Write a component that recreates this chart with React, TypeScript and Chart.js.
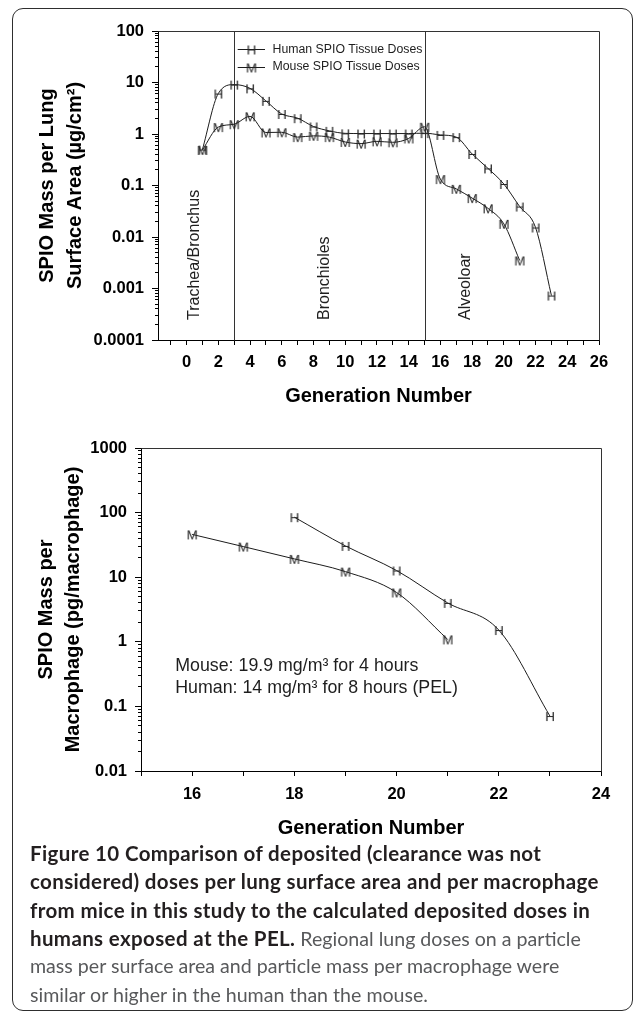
import React, { useEffect, useRef } from 'react';
import { Chart, registerables } from 'chart.js';

Chart.register(...registerables);

const AXIS_FONT = '"Liberation Sans", Arial, Helvetica, sans-serif';
const LINE_COLOR = '#1c1c1c';
const MARKER_COLOR = '#262626';
const FRAME_COLOR = '#333333';

// ---------- Top chart: SPIO mass per lung surface area ----------
const topHumanGeneration = [1, 2, 3, 4, 5, 6, 7, 8, 9, 10, 11, 12, 13, 14, 15, 16, 17, 18, 19, 20, 21, 22, 23];
const topHumanDose = [0.5, 6.1, 9.1, 7.7, 4.4, 2.45, 2.03, 1.4, 1.15, 1.03, 1.02, 1.02, 1.02, 1.02, 1.04, 0.96, 0.87, 0.41, 0.215, 0.107, 0.039, 0.0153, 0.00073];
const topMouseGeneration = [1, 2, 3, 4, 5, 6, 7, 8, 9, 10, 11, 12, 13, 14, 15, 16, 17, 18, 19, 20, 21];
const topMouseDose = [0.49, 1.36, 1.55, 2.2, 1.07, 1.08, 0.87, 0.92, 0.87, 0.7, 0.65, 0.72, 0.69, 0.82, 1.38, 0.133, 0.086, 0.057, 0.036, 0.018, 0.0035];
const topRegionBoundaries = [3, 15];
const topRegionNames = ['Trachea/Bronchus', 'Bronchioles', 'Alveoloar'];
const topRegionNameAt = [0.5, 8.7, 17.6];
const topYTickValues = [0.0001, 0.001, 0.01, 0.1, 1, 10, 100];
const topYTickLabels = ['0.0001', '0.001', '0.01', '0.1', '1', '10', '100'];
const topXTickValues = [-1, 0, 1, 2, 3, 4, 5, 6, 7, 8, 9, 10, 11, 12, 13, 14, 15, 16, 17, 18, 19, 20, 21, 22, 23, 24, 25, 26];
const topXLabelValues = [0, 2, 4, 6, 8, 10, 12, 14, 16, 18, 20, 22, 24, 26];
const topXTickLabels = ['0', '2', '4', '6', '8', '10', '12', '14', '16', '18', '20', '22', '24', '26'];
const topYTitle = ['SPIO Mass per Lung', 'Surface Area (\u00b5g/cm\u00b2)'];
const legendLabels = ['Human SPIO Tissue Doses', 'Mouse SPIO Tissue Doses'];

// ---------- Bottom chart: SPIO mass per macrophage ----------
const bottomMouseGeneration = [16, 17, 18, 19, 20, 21];
const bottomMouseDose = [46, 29.8, 19.2, 12.2, 5.8, 1.09];
const bottomHumanGeneration = [18, 19, 20, 21, 22, 23];
const bottomHumanDose = [85, 30.5, 12.7, 4.0, 1.52, 0.071];
const bottomYTickValues = [0.01, 0.1, 1, 10, 100, 1000];
const bottomYTickLabels = ['0.01', '0.1', '1', '10', '100', '1000'];
const bottomXTickValues = [15, 16, 17, 18, 19, 20, 21, 22, 23, 24];
const bottomXLabelValues = [16, 18, 20, 22, 24];
const bottomXTickLabels = ['16', '18', '20', '22', '24'];
const bottomYTitle = ['SPIO Mass per', 'Macrophage (pg/macrophage)'];
const annotationLines = ['Mouse: 19.9 mg/m\u00b3 for 4 hours', 'Human: 14 mg/m\u00b3 for 8 hours (PEL)'];
const annotationAt = { x: 15.67, y: 0.42 };

const xTitle = 'Generation Number';

// ---------- Caption ----------
const captionBold = [
  'Figure 10 Comparison of deposited (clearance was not',
  'considered) doses per lung surface area and per macrophage',
  'from mice in this study to the calculated deposited doses in',
  'humans exposed at the PEL.',
];
const captionRegular = [
  ' Regional lung doses on a particle',
  'mass per surface area and particle mass per macrophage were',
  'similar or higher in the human than the mouse.',
];

function minorTicks(values: number[]): number[] {
  const out: number[] = [];
  for (let i = 0; i < values.length - 1; i++) {
    for (let k = 2; k <= 9; k++) out.push(values[i] * k);
  }
  return out;
}

function makeMarker(letter: string): HTMLCanvasElement {
  const size = 13.5;
  const c = document.createElement('canvas');
  c.width = 18;
  c.height = 18;
  const ctx = c.getContext('2d');
  if (ctx) {
    ctx.font = `${size}px ${AXIS_FONT}`;
    ctx.fillStyle = MARKER_COLOR;
    ctx.textAlign = 'center';
    ctx.textBaseline = 'alphabetic';
    ctx.fillText(letter, 9, 9 + (size * 0.716) / 2);
  }
  return c;
}

function labelFor(values: number[], labels: string[], v: number, log: boolean): string {
  const i = values.findIndex((t) =>
    log ? Math.abs(Math.log10(t) - Math.log10(v)) < 1e-6 : Math.abs(t - v) < 1e-6
  );
  return i >= 0 ? labels[i] : '';
}

const tickFont = { family: AXIS_FONT, size: 16.5, weight: 'bold' as const };
const titleFont = { family: AXIS_FONT, size: 20, weight: 'bold' as const };

const framePlugin = {
  id: 'frame',
  beforeDatasetsDraw(chart: any) {
    const { ctx, chartArea } = chart;
    ctx.save();
    ctx.strokeStyle = FRAME_COLOR;
    ctx.lineWidth = 1;
    const l = Math.round(chartArea.left) + 0.5;
    const t = Math.round(chartArea.top) + 0.5;
    const r = Math.round(chartArea.right) + 0.5;
    const b = Math.round(chartArea.bottom) + 0.5;
    ctx.beginPath();
    ctx.moveTo(l, t);
    ctx.lineTo(r, t);
    ctx.lineTo(r, b);
    ctx.stroke();
    const lines: number[] = chart.options.plugins.frame?.verticals || [];
    lines.forEach((v) => {
      const x = Math.round(chart.scales.x.getPixelForValue(v)) + 0.5;
      ctx.beginPath();
      ctx.moveTo(x, t);
      ctx.lineTo(x, b);
      ctx.stroke();
    });
    ctx.restore();
  },
};

const regionPlugin = {
  id: 'regionLabels',
  afterDatasetsDraw(chart: any) {
    const { ctx, chartArea } = chart;
    ctx.save();
    ctx.fillStyle = '#1e1e1e';
    ctx.font = `16px ${AXIS_FONT}`;
    ctx.textAlign = 'left';
    ctx.textBaseline = 'middle';
    topRegionNames.forEach((name, i) => {
      const x = chart.scales.x.getPixelForValue(topRegionNameAt[i]);
      const y = chartArea.bottom - 20;
      ctx.save();
      ctx.translate(x, y);
      ctx.rotate(-Math.PI / 2);
      ctx.fillText(name, 0, 0);
      ctx.restore();
    });
    ctx.restore();
  },
};

function legendPlugin(markers: HTMLCanvasElement[]) {
  return {
    id: 'customLegend',
    afterDatasetsDraw(chart: any) {
      const { ctx, chartArea } = chart;
      ctx.save();
      ctx.font = `12.3px ${AXIS_FONT}`;
      ctx.fillStyle = '#1e1e1e';
      ctx.textAlign = 'left';
      ctx.textBaseline = 'middle';
      legendLabels.forEach((label, i) => {
        const y = chartArea.top + 18.3 + i * 17.4;
        const x0 = chartArea.left + 79.7;
        const x1 = chartArea.left + 107;
        ctx.strokeStyle = LINE_COLOR;
        ctx.lineWidth = 1;
        ctx.beginPath();
        ctx.moveTo(x0, Math.round(y) + 0.5);
        ctx.lineTo(x1, Math.round(y) + 0.5);
        ctx.stroke();
        const m = markers[i];
        ctx.drawImage(m, (x0 + x1) / 2 - m.width / 2, Math.round(y) + 0.5 - m.height / 2);
        ctx.fillText(label, chartArea.left + 114.5, y);
      });
      ctx.restore();
    },
  };
}

const annotationPlugin = {
  id: 'annotationText',
  afterDatasetsDraw(chart: any) {
    const { ctx } = chart;
    ctx.save();
    ctx.font = `17.8px ${AXIS_FONT}`;
    ctx.fillStyle = '#1e1e1e';
    ctx.textAlign = 'left';
    ctx.textBaseline = 'middle';
    const x = chart.scales.x.getPixelForValue(annotationAt.x);
    const y = chart.scales.y.getPixelForValue(annotationAt.y);
    annotationLines.forEach((line, i) => ctx.fillText(line, x, y + i * 21.5));
    ctx.restore();
  },
};

function axisCommon(tickLength: number) {
  return {
    grid: { drawOnChartArea: false, drawTicks: true, tickLength, color: '#000', tickColor: '#000' },
    border: { display: true, color: '#000', width: 1 },
  };
}

function buildTop(canvas: HTMLCanvasElement) {
  const mH = makeMarker('H');
  const mM = makeMarker('M');
  return new Chart(canvas, {
    type: 'line',
    data: {
      datasets: [
        {
          label: legendLabels[0],
          data: topHumanGeneration.map((g, i) => ({ x: g, y: topHumanDose[i] })),
          borderColor: LINE_COLOR,
          borderWidth: 1,
          pointStyle: mH,
          pointRadius: 5,
          cubicInterpolationMode: 'monotone',
          fill: false,
        },
        {
          label: legendLabels[1],
          data: topMouseGeneration.map((g, i) => ({ x: g, y: topMouseDose[i] })),
          borderColor: LINE_COLOR,
          borderWidth: 1,
          pointStyle: mM,
          pointRadius: 5,
          cubicInterpolationMode: 'monotone',
          fill: false,
        },
      ],
    },
    options: {
      responsive: false,
      animation: false,
      devicePixelRatio: 1,
      events: [],
      layout: { padding: { top: 31, right: 35, left: 0, bottom: 0 } },
      plugins: {
        legend: { display: false },
        tooltip: { enabled: false },
        frame: { verticals: topRegionBoundaries },
      } as any,
      scales: {
        x: {
          type: 'linear',
          min: -1.8,
          max: 26,
          ...axisCommon(5),
          afterBuildTicks: (s: any) => {
            s.ticks = topXTickValues.map((v) => ({ value: v }));
          },
          afterFit: (s: any) => {
            s.height = 80;
            s.paddingLeft = 0;
            s.paddingRight = 0;
          },
          ticks: {
            autoSkip: false,
            maxRotation: 0,
            padding: 8,
            color: '#000',
            font: tickFont,
            callback: (v: any) => labelFor(topXLabelValues, topXTickLabels, Number(v), false),
          },
          title: { display: true, text: xTitle, color: '#000', font: titleFont, padding: { top: 0, bottom: 12 } },
        },
        y: {
          type: 'logarithmic',
          min: 0.0001,
          max: 100,
          weight: 1,
          ...axisCommon(6),
          afterBuildTicks: (s: any) => {
            s.ticks = topYTickValues.map((v) => ({ value: v, major: true }));
          },
          afterFit: (s: any) => {
            s.width = 158;
            s.paddingTop = 0;
            s.paddingBottom = 0;
          },
          ticks: {
            autoSkip: false,
            padding: 8,
            color: '#000',
            font: tickFont,
            callback: (v: any) => labelFor(topYTickValues, topYTickLabels, Number(v), true),
          },
          title: {
            display: true,
            text: topYTitle,
            color: '#000',
            font: { ...titleFont, lineHeight: 1.415 },
            padding: { top: 33.5, bottom: 0 },
          },
        },
        yMinor: {
          type: 'logarithmic',
          position: 'left',
          min: 0.0001,
          max: 100,
          weight: 0,
          grid: { drawOnChartArea: false, drawTicks: true, tickLength: 3, color: '#000', tickColor: '#000' },
          border: { display: false },
          afterBuildTicks: (s: any) => {
            s.ticks = minorTicks(topYTickValues).map((v) => ({ value: v }));
          },
          afterFit: (s: any) => {
            s.width = 0;
            s.paddingTop = 0;
            s.paddingBottom = 0;
          },
          ticks: { display: false, autoSkip: false },
        },
      } as any,
    },
    plugins: [framePlugin, regionPlugin, legendPlugin([mH, mM])],
  } as any);
}

function buildBottom(canvas: HTMLCanvasElement) {
  const mH = makeMarker('H');
  const mM = makeMarker('M');
  return new Chart(canvas, {
    type: 'line',
    data: {
      datasets: [
        {
          label: 'Mouse',
          data: bottomMouseGeneration.map((g, i) => ({ x: g, y: bottomMouseDose[i] })),
          borderColor: LINE_COLOR,
          borderWidth: 1,
          pointStyle: mM,
          pointRadius: 5,
          cubicInterpolationMode: 'monotone',
          fill: false,
        },
        {
          label: 'Human',
          data: bottomHumanGeneration.map((g, i) => ({ x: g, y: bottomHumanDose[i] })),
          borderColor: LINE_COLOR,
          borderWidth: 1,
          pointStyle: mH,
          pointRadius: 5,
          cubicInterpolationMode: 'monotone',
          fill: false,
        },
      ],
    },
    options: {
      responsive: false,
      animation: false,
      devicePixelRatio: 1,
      events: [],
      layout: { padding: { top: 18, right: 33, left: 0, bottom: 0 } },
      plugins: {
        legend: { display: false },
        tooltip: { enabled: false },
        frame: { verticals: [] },
      } as any,
      scales: {
        x: {
          type: 'linear',
          min: 15,
          max: 24,
          ...axisCommon(5),
          afterBuildTicks: (s: any) => {
            s.ticks = bottomXTickValues.map((v) => ({ value: v }));
          },
          afterFit: (s: any) => {
            s.height = 79;
            s.paddingLeft = 0;
            s.paddingRight = 0;
          },
          ticks: {
            autoSkip: false,
            maxRotation: 0,
            padding: 9,
            color: '#000',
            font: tickFont,
            callback: (v: any) => labelFor(bottomXLabelValues, bottomXTickLabels, Number(v), false),
          },
          title: { display: true, text: xTitle, color: '#000', font: titleFont, padding: { top: 0, bottom: 10 } },
        },
        y: {
          type: 'logarithmic',
          min: 0.01,
          max: 1000,
          weight: 1,
          ...axisCommon(6),
          afterBuildTicks: (s: any) => {
            s.ticks = bottomYTickValues.map((v) => ({ value: v, major: true }));
          },
          afterFit: (s: any) => {
            s.width = 141;
            s.paddingTop = 0;
            s.paddingBottom = 0;
          },
          ticks: {
            autoSkip: false,
            padding: 8,
            color: '#000',
            font: tickFont,
            callback: (v: any) => labelFor(bottomYTickValues, bottomYTickLabels, Number(v), true),
          },
          title: {
            display: true,
            text: bottomYTitle,
            color: '#000',
            font: { ...titleFont, lineHeight: 1.38 },
            padding: { top: 32.5, bottom: 0 },
          },
        },
        yMinor: {
          type: 'logarithmic',
          position: 'left',
          min: 0.01,
          max: 1000,
          weight: 0,
          grid: { drawOnChartArea: false, drawTicks: true, tickLength: 3, color: '#000', tickColor: '#000' },
          border: { display: false },
          afterBuildTicks: (s: any) => {
            s.ticks = minorTicks(bottomYTickValues).map((v) => ({ value: v }));
          },
          afterFit: (s: any) => {
            s.width = 0;
            s.paddingTop = 0;
            s.paddingBottom = 0;
          },
          ticks: { display: false, autoSkip: false },
        },
      } as any,
    },
    plugins: [framePlugin, annotationPlugin],
  } as any);
}

export default function App() {
  const topRef = useRef<HTMLCanvasElement>(null);
  const bottomRef = useRef<HTMLCanvasElement>(null);

  useEffect(() => {
    const charts: Chart[] = [];
    if (topRef.current) charts.push(buildTop(topRef.current));
    if (bottomRef.current) charts.push(buildBottom(bottomRef.current));
    return () => charts.forEach((c) => c.destroy());
  }, []);

  const boldStyle: React.CSSProperties = { fontWeight: 700, color: '#231f20', fontSize: 20.5, letterSpacing: '0.37px' };
  const regStyle: React.CSSProperties = { fontWeight: 400, color: '#58595b', fontSize: 19.6 };
  const lineStyle: React.CSSProperties = { height: 28.33, lineHeight: '28.33px', whiteSpace: 'nowrap' };

  return (
    <div>
      <div
        style={{
          position: 'absolute',
          left: 12,
          top: 8,
          width: 621,
          height: 1003,
          boxSizing: 'border-box',
          border: '1.5px solid #2e2e2e',
          borderRadius: 11,
        }}
      />
      <canvas
        ref={topRef}
        width={634}
        height={420}
        style={{ position: 'absolute', left: 0, top: 0, width: 634, height: 420 }}
      />
      <canvas
        ref={bottomRef}
        width={634}
        height={420}
        style={{ position: 'absolute', left: 0, top: 430, width: 634, height: 420 }}
      />
      <div
        style={{
          position: 'absolute',
          left: 30,
          top: 839,
          fontFamily: 'Lato, "Open Sans", sans-serif',
          fontSize: 19.6,
        }}
      >
        <div style={{ ...lineStyle, ...boldStyle }}>{captionBold[0]}</div>
        <div style={{ ...lineStyle, ...boldStyle }}>{captionBold[1]}</div>
        <div style={{ ...lineStyle, ...boldStyle }}>{captionBold[2]}</div>
        <div style={lineStyle}>
          <span style={boldStyle}>{captionBold[3]}</span>
          <span style={regStyle}>{captionRegular[0]}</span>
        </div>
        <div style={{ ...lineStyle, ...regStyle }}>{captionRegular[1]}</div>
        <div style={{ ...lineStyle, ...regStyle }}>{captionRegular[2]}</div>
      </div>
    </div>
  );
}
